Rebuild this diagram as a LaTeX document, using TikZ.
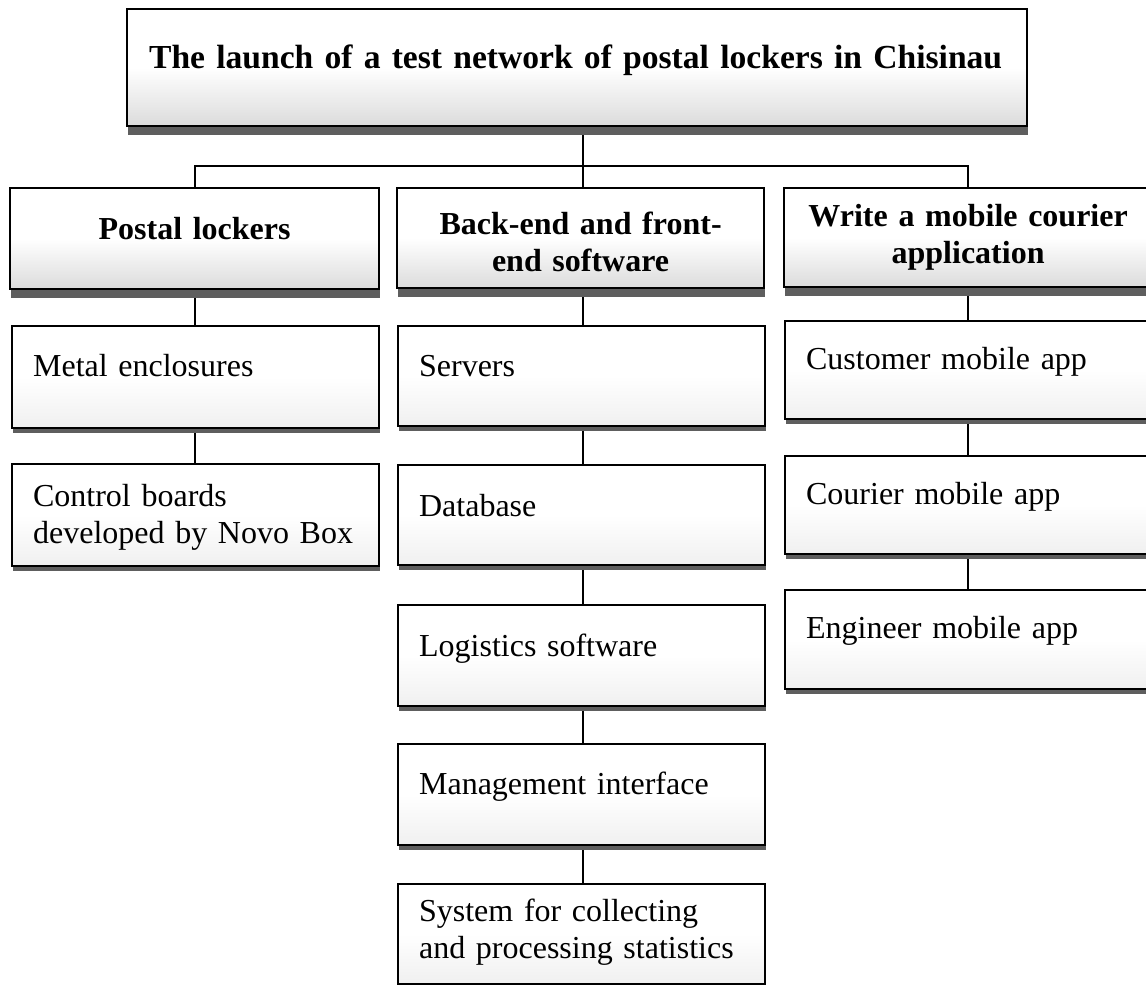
\documentclass[tikz,border=0pt]{standalone}
\usepackage{fontspec}
\setmainfont{Liberation Serif}
\usetikzlibrary{shadows,backgrounds}

\tikzset{
  box/.style={draw=black, line width=2.2pt, rectangle, anchor=north west,
    inner ysep=0pt, font=\fontsize{32}{37}\selectfont},
  headshade/.style={top color=white, bottom color=black!14, middle color=white},
  leafshade/.style={top color=white, bottom color=black!6, middle color=white},
  bigshadow/.style={drop shadow={shadow xshift=1pt, shadow yshift=-8.5pt,
    fill=black!63, opacity=1}},
  smallshadow/.style={drop shadow={shadow xshift=1pt, shadow yshift=-4.5pt,
    fill=black!63, opacity=1}},
  head/.style={box, headshade, bigshadow, align=center, inner xsep=8pt,
    font=\fontsize{32}{37}\selectfont\bfseries},
  leaf/.style={box, leafshade, smallshadow, align=left, inner xsep=21pt,
    text width=325pt},
  link/.style={line width=2.2pt}
}

\begin{document}
\begin{tikzpicture}[x=1pt, y=-1pt]
\useasboundingbox (0,0) rectangle (1146,985);

% root
\node[box, headshade, bigshadow, align=left, inner xsep=22pt, text width=856pt,
  text height=59pt, text depth=58pt, font=\fontsize{33.6}{40}\selectfont\bfseries]
  (top) at (126,8) {\mbox{The launch of a test network of postal lockers in Chisinau}};

% second level
\node[head, text width=353pt, text height=51pt, text depth=50pt]
  (pl) at (9,187) {Postal lockers};
\node[head, text width=351pt, text height=46pt, text depth=54pt]
  (be) at (396,187) {Back-end and front-\\end software};
\node[head, text width=352pt, text height=38pt, text depth=61pt]
  (wm) at (783,187) {Write a mobile courier\\application};

% postal lockers branch
\node[leaf, text height=50pt, text depth=52pt] (me) at (11,325) {Metal enclosures};
\node[leaf, text height=42pt, text depth=60pt] (cb) at (11,463)
  {Control boards\\developed by Novo Box};

% software branch
\node[leaf, text height=50pt, text depth=50pt] (sv) at (397,325) {Servers};
\node[leaf, text height=51pt, text depth=49pt] (db) at (397,464) {Database};
\node[leaf, text height=51pt, text depth=50pt] (lg) at (397,604) {Logistics software};
\node[leaf, text height=50pt, text depth=51pt] (mi) at (397,743) {Management interface};
\node[leaf, text height=37pt, text depth=63pt] (st) at (397,883)
  {System for collecting\\and processing statistics};

% mobile application branch
\node[leaf, text height=48pt, text depth=50pt] (cu) at (784,320) {Customer mobile app};
\node[leaf, text height=48pt, text depth=50pt] (co) at (784,455) {Courier mobile app};
\node[leaf, text height=48pt, text depth=51pt] (en) at (784,589) {Engineer mobile app};

% connectors
\coordinate (hub) at (583,166);
\begin{scope}[on background layer]
  \draw[link] (top.south -| hub) -- (hub);
  \draw[link] (pl.north) |- (hub) -| (wm.north);
  \draw[link] (hub) -- (be.north -| hub);
  \draw[link] (pl.south) -- (pl.south |- me.north);
  \draw[link] (me.south -| pl.south) -- (pl.south |- cb.north);
  \draw[link] (be.south -| hub) -- (sv.north -| hub);
  \draw[link] (sv.south -| hub) -- (db.north -| hub);
  \draw[link] (db.south -| hub) -- (lg.north -| hub);
  \draw[link] (lg.south -| hub) -- (mi.north -| hub);
  \draw[link] (mi.south -| hub) -- (st.north -| hub);
  \draw[link] (wm.south) -- (wm.south |- cu.north);
  \draw[link] (cu.south -| wm.south) -- (wm.south |- co.north);
  \draw[link] (co.south -| wm.south) -- (wm.south |- en.north);
\end{scope}
\end{tikzpicture}
\end{document}
